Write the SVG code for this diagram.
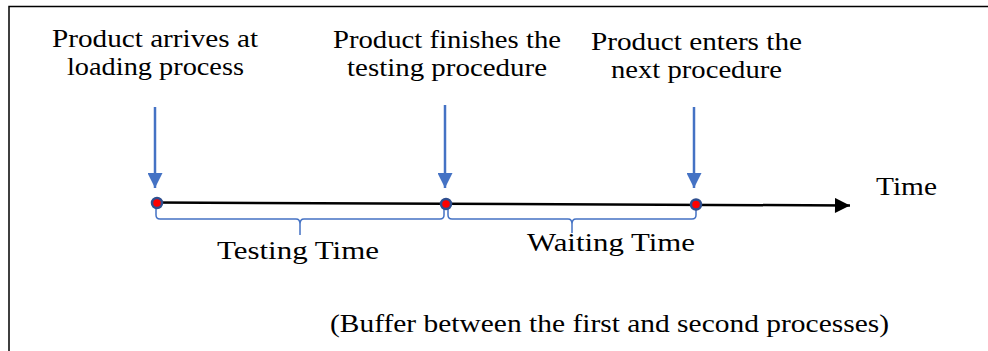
<svg xmlns="http://www.w3.org/2000/svg" width="988" height="351" viewBox="0 0 988 351">
<defs>
<style>
text{font-family:"Liberation Serif","Times New Roman",serif;font-size:26px;fill:#000;text-anchor:middle;lengthAdjust:spacingAndGlyphs}
.blue{stroke:#4472C4;stroke-width:2.5;fill:none}
.brace{stroke:#4472C4;stroke-width:1.5;fill:none}
.dot{fill:#FF0000;stroke:#2F4F8F;stroke-width:2.5}
</style>
<marker id="bh" viewBox="0 0 10 10" refX="10" refY="5" markerWidth="6" markerHeight="6" markerUnits="strokeWidth" orient="auto">
<path d="M0,0 L10,5 L0,10 Z" fill="#4472C4"/>
</marker>
<marker id="kh" viewBox="0 0 10 10" refX="10" refY="5" markerWidth="7" markerHeight="6" markerUnits="strokeWidth" orient="auto">
<path d="M0,0 L10,5 L0,10 Z" fill="#000"/>
</marker>
</defs>
<rect width="988" height="351" fill="#fff"/>
<path d="M9,351 V6.5 H988" fill="none" stroke="#000" stroke-width="1.5"/>
<g id="connectors">
<line x1="154" y1="202.5" x2="850" y2="205.5" stroke="#000" stroke-width="2.5" marker-end="url(#kh)"/>
<line class="blue" x1="155" y1="107" x2="155" y2="188" marker-end="url(#bh)"/>
<line class="blue" x1="445" y1="105" x2="445" y2="188" marker-end="url(#bh)"/>
<line class="blue" x1="694" y1="107" x2="694" y2="188" marker-end="url(#bh)"/>
<path class="brace" d="M156,207 V215 Q156,219 160,219 H296 Q300,219 300,224 V235 M300,224 Q300,219 304,219 H440 Q444,219 444,215 V207"/>
<path class="brace" d="M448,207 V215 Q448,219 452,219 H568 Q572,219 572,224 V233 M572,224 Q572,219 576,219 H692 Q696,219 696,215 V207"/>
</g>
<g id="n1">
<circle class="dot" cx="157" cy="203" r="5"/>
<text x="155" y="47" textLength="206" lengthAdjust="spacingAndGlyphs">Product arrives at</text>
<text x="155.5" y="75" textLength="177" lengthAdjust="spacingAndGlyphs">loading process</text>
</g>
<g id="n2">
<circle class="dot" cx="446" cy="204" r="5"/>
<text x="447" y="48" textLength="228" lengthAdjust="spacingAndGlyphs">Product finishes the</text>
<text x="447" y="76" textLength="200" lengthAdjust="spacingAndGlyphs">testing procedure</text>
</g>
<g id="n3">
<circle class="dot" cx="696" cy="204.5" r="5"/>
<text x="696.5" y="50" textLength="211" lengthAdjust="spacingAndGlyphs">Product enters the</text>
<text x="696.5" y="78" textLength="171" lengthAdjust="spacingAndGlyphs">next procedure</text>
</g>
<text x="906.5" y="195" textLength="61" lengthAdjust="spacingAndGlyphs">Time</text>
<text x="298" y="259" textLength="162" lengthAdjust="spacingAndGlyphs">Testing Time</text>
<text x="611" y="251" textLength="168" lengthAdjust="spacingAndGlyphs">Waiting Time</text>
<text x="609.5" y="332" textLength="559" lengthAdjust="spacingAndGlyphs">(Buffer between the first and second processes)</text>
</svg>
